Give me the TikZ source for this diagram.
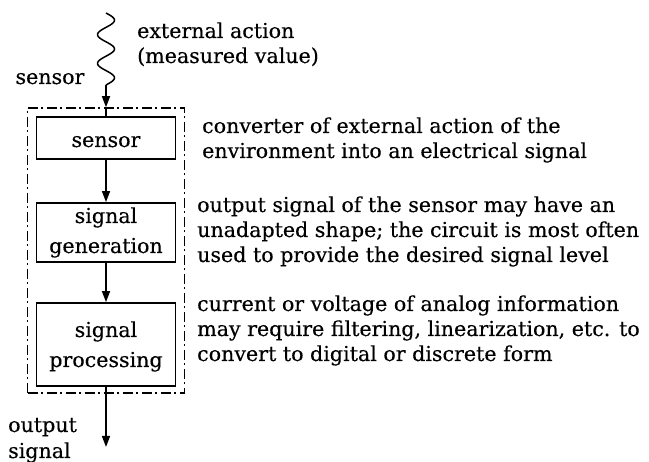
\documentclass[tikz,border=0pt]{standalone}
\usepackage{fontspec}
\setmainfont{DejaVu Serif}[BoldFont=DejaVu Serif, BoldFeatures={FakeBold=0.35}]
\usetikzlibrary{arrows.meta}
\begin{document}
\begin{tikzpicture}[x=1pt,y=-1pt,
  every node/.style={font=\fontsize{20.6}{27}\selectfont\bfseries, inner sep=0pt},
  blk/.style={draw, line width=1.8pt, minimum width=139pt},
  txt/.style={anchor=base west},
  lbl/.style={anchor=base},
  conn/.style={line width=1.5pt, -{Triangle[length=11pt,width=8pt]}},
  wire/.style={line width=1.5pt},
  frm/.style={draw, line width=1.5pt, dash pattern=on 10pt off 3.5pt on 2pt off 3.5pt}]
\useasboundingbox (0,0) rectangle (649,462);
% frame and blocks
\node[frm, minimum width=157pt, minimum height=285pt] (frame) at (106,250.5) {};
\node[blk, minimum height=42pt] (s) at (106,138) {};
\node[blk, minimum height=59pt] (g) at (106,232.5) {};
\node[blk, minimum height=83pt] (p) at (106,344.5) {};
% block texts
\node[lbl] (sl) at (106,147) {sensor};
\node[lbl] (gl1) at (106,223) {signal};
\node[lbl] (gl2) at (106,253) {generation};
\node[lbl] (pl1) at (106,337) {signal};
\node[lbl] (pl2) at (106,367) {processing};
% wavy input
\draw[wire] plot[smooth, domain=13:85, samples=73] ({106+8.5*sin((\x-13)/28.8*360)}, \x);
\coordinate (wend) at (106,85);
\draw[conn] (wend) -- (frame.north);
\draw[wire] (frame.north) -- (s.north);
\draw[conn] (s) -- (g);
\draw[conn] (g) -- (p);
\coordinate (out) at (106,447);
\draw[conn] (p) -- (out);
% left labels
\node[lbl] (sensorlab) at (50,84) {sensor};
\node[txt] (ext1) at (137,38) {external action};
\node[txt] (ext2) at (137,63) {(measured value)};
\node[txt] (out1) at (8,432) {output};
\node[txt] (out2) at (8,458) {signal};
% right descriptions
\node[txt] (d1a) at (202,133) {converter of external action of the};
\node[txt] (d1b) at (202,158) {environment into an electrical signal};
\node[txt] (d2a) at (197,212) {output signal of the sensor may have an};
\node[txt] (d2b) at (197,237) {unadapted shape; the circuit is most often};
\node[txt] (d2c) at (197,262) {used to provide the desired signal level};
\node[txt] (d3a) at (197,311) {current or voltage of analog information};
\node[txt] (d3b) at (197,336) {may require filtering, linearization, etc. to};
\node[txt] (d3c) at (197,361) {convert to digital or discrete form};
\end{tikzpicture}
\end{document}
